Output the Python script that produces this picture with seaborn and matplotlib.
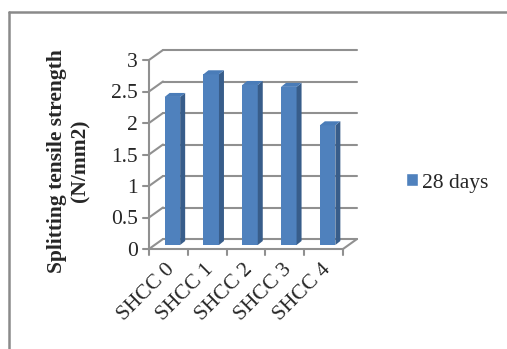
import matplotlib
matplotlib.use("Agg")
import matplotlib.pyplot as plt
import seaborn as sns
import pandas as pd
from matplotlib.patches import Polygon, Rectangle
from matplotlib.lines import Line2D
from matplotlib.transforms import ScaledTranslation

# Chart data
categories = ["SHCC 0", "SHCC 1", "SHCC 2", "SHCC 3", "SHCC 4"]
values = [2.35, 2.71, 2.54, 2.51, 1.90]
series_name = "28 days"
y_ticks = [0, 0.5, 1, 1.5, 2, 2.5, 3]
y_tick_labels = ["0", "0.5", "1", "1.5", "2", "2.5", "3"]
y_label = "Splitting tensile strength\n(N/mm2)"

sns.set_style("white")
plt.rcParams["font.family"] = ["Liberation Serif", "DejaVu Serif"]

W, H, DPI = 507, 349, 100
FS = 15.5
fig = plt.figure(figsize=(W / DPI, H / DPI), dpi=DPI)

# front plane of the pseudo-3D plot area (pixel geometry)
ax_l, ax_r, ax_b, ax_t = 149, 343, 249, 60
ax = fig.add_axes([ax_l / W, 1 - ax_b / H, (ax_r - ax_l) / W, (ax_b - ax_t) / H])

df = pd.DataFrame({"cat": categories, "val": values})
front_c = "#4F81BD"
side_c = "#385D8A"
top_c = "#4A7CB8"
sns.barplot(data=df, x="cat", y="val", color=front_c, saturation=1,
            width=0.4, ax=ax, label=series_name, zorder=3)

ax.set_xlim(-0.5, len(categories) - 0.5)
ax.set_ylim(0, 3)
ax.set_xlabel("")
ax.set_ylabel("")
for s in ax.spines.values():
    s.set_visible(False)
ax.set_yticks(y_ticks)
ax.set_yticklabels(y_tick_labels)
ax.tick_params(axis="y", length=0, pad=8, labelsize=FS)
ax.tick_params(axis="x", length=0, pad=13, labelsize=FS)
for lab in ax.get_xticklabels():
    lab.set_rotation(45)
    lab.set_ha("right")
    lab.set_rotation_mode("anchor")
    lab.set_va("center")
    lab.set_transform(lab.get_transform() + ScaledTranslation(4 / DPI, 0, fig.dpi_scale_trans))

grid_c = "#909090"
lw = 1.5
depth_x, depth_y = 14, 10  # back-wall offset in pixels


def px_off(dx, dy):
    return ScaledTranslation(dx / DPI, dy / DPI, fig.dpi_scale_trans)


inv = fig.transFigure.inverted()


def fig_line(p0, p1, **kw):
    a, b = inv.transform(p0), inv.transform(p1)
    fig.add_artist(Line2D([a[0], b[0]], [a[1], b[1]], color=grid_c, lw=lw, **kw))


back = ax.get_yaxis_transform() + px_off(depth_x, depth_y)
front = ax.get_yaxis_transform()
for v in y_ticks:
    # back wall gridline
    ax.add_line(Line2D([0, 1], [v, v], transform=back, color=grid_c, lw=lw,
                       clip_on=False, zorder=1))
    # left wall diagonal
    fig_line(front.transform((0, v)), back.transform((0, v)), zorder=1)
    # y tick
    pa = front.transform((0, v))
    fig_line((pa[0] - 6, pa[1]), pa)

# floor: front edge, right diagonal
ax.add_line(Line2D([0, 1], [0, 0], transform=front, color=grid_c, lw=lw, clip_on=False, zorder=2))
fig_line(front.transform((1, 0)), back.transform((1, 0)), zorder=2)
# front vertical axis
ax.add_line(Line2D([0, 0], [0, 3], transform=front, color=grid_c, lw=lw, clip_on=False, zorder=2))
# x ticks at category boundaries
xt = ax.get_xaxis_transform()
for i in range(len(categories) + 1):
    pa = xt.transform((i - 0.5, 0))
    fig_line((pa[0], pa[1] - 6), pa)

# 3D bar faces
fig.canvas.draw()
bx, by = 4, 4      # bar placement depth offset (px)
sx, sy = 5, 4      # bar side/top depth (px)
to_data = ax.transData.inverted()
o = ax.transData.transform((0, 0))


def d(dxp, dyp):
    q = to_data.transform((o[0] + dxp, o[1] + dyp))
    return q[0], q[1]


bdx, bdy = d(bx, by)
sdx, sdy = d(sx, sy)
for p in list(ax.patches):
    x0 = p.get_x() + bdx
    w = p.get_width()
    h = p.get_height()
    y0 = bdy
    p.set_x(x0)
    p.set_y(y0)
    p.set_linewidth(0)
    x1 = x0 + w
    y1 = y0 + h
    ax.add_patch(Polygon([(x1, y0), (x1 + sdx, y0 + sdy), (x1 + sdx, y1 + sdy), (x1, y1)],
                         closed=True, facecolor=side_c, edgecolor="none", zorder=3))
    ax.add_patch(Polygon([(x0, y1), (x1, y1), (x1 + sdx, y1 + sdy), (x0 + sdx, y1 + sdy)],
                         closed=True, facecolor=top_c, edgecolor="none", zorder=3))

fig.text(69 / W, 1 - 161 / H, y_label, rotation=90, ha="center", va="center",
         multialignment="center", fontsize=FS, fontweight="bold", linespacing=1.25)

ax.legend(handles=[Rectangle((0, 0), 1, 1, facecolor=front_c)], labels=[series_name],
          loc="center left", bbox_to_anchor=(406 / W, 1 - 183 / H),
          bbox_transform=fig.transFigure, frameon=False, fontsize=FS,
          handlelength=0.55, handleheight=0.55, handletextpad=0.2,
          borderpad=0, borderaxespad=0)

# chart area frame (top and left edges visible)
fig.add_artist(Line2D([9 / W, 1], [1 - 11.5 / H, 1 - 11.5 / H], color="#8A8A8A", lw=1.8))
fig.add_artist(Line2D([9 / W, 9 / W], [0, 1 - 11.5 / H], color="#8A8A8A", lw=1.8))

fig.savefig("out.png", dpi=DPI)
